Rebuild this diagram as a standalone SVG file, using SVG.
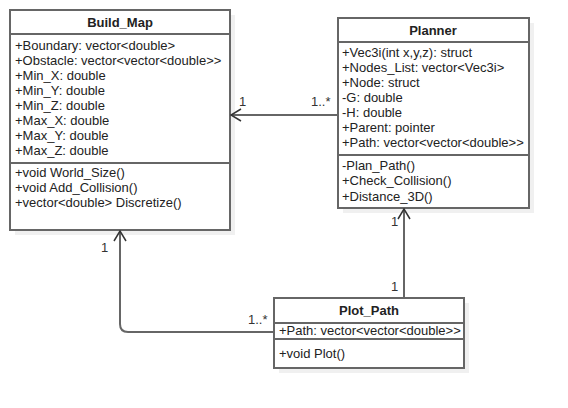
<svg xmlns="http://www.w3.org/2000/svg" width="568" height="408" viewBox="0 0 568 408">
<defs>
<style>
.shadow{fill:#f0f0f0;stroke:none}
.box{fill:#ffffff;stroke:#666666;stroke-width:2}
.sep{stroke:#666666;stroke-width:2}
.t{font-family:"Liberation Sans",Arial,sans-serif;font-size:13px;fill:#222222}
.title{font-family:"Liberation Sans",Arial,sans-serif;font-size:13px;font-weight:bold;fill:#222222;text-anchor:middle}
.conn{fill:none;stroke:#666666;stroke-width:2}
.lbl{font-family:"Liberation Sans",Arial,sans-serif;font-size:13px;fill:#333333}
</style>
<marker id="open" markerWidth="12" markerHeight="14" refX="11" refY="7" orient="auto" markerUnits="userSpaceOnUse">
<path d="M1,1 L11,7 L1,13" fill="none" stroke="#333333" stroke-width="1.5"/>
</marker>
</defs>
<rect width="568" height="408" fill="#ffffff"/>
<g id="Build_Map">
<rect class="shadow" x="15" y="15" width="220" height="220"/>
<rect class="box" x="10" y="10" width="220" height="220"/>
<line class="sep" x1="10" y1="34" x2="230" y2="34"/>
<line class="sep" x1="10" y1="163" x2="230" y2="163"/>
<text class="title" x="120" y="27">Build_Map</text>
<text class="t" x="15" y="50">+Boundary: vector&lt;double&gt;</text>
<text class="t" x="15" y="65">+Obstacle: vector&lt;vector&lt;double&gt;&gt;</text>
<text class="t" x="15" y="80">+Min_X: double</text>
<text class="t" x="15" y="95">+Min_Y: double</text>
<text class="t" x="15" y="110">+Min_Z: double</text>
<text class="t" x="15" y="125">+Max_X: double</text>
<text class="t" x="15" y="140">+Max_Y: double</text>
<text class="t" x="15" y="155">+Max_Z: double</text>
<text class="t" x="15" y="177">+void World_Size()</text>
<text class="t" x="15" y="192">+void Add_Collision()</text>
<text class="t" x="15" y="207">+vector&lt;double&gt; Discretize()</text>
</g>
<g id="Planner">
<rect class="shadow" x="343" y="23" width="191" height="190"/>
<rect class="box" x="338" y="18" width="191" height="190"/>
<line class="sep" x1="338" y1="42" x2="529" y2="42"/>
<line class="sep" x1="338" y1="155" x2="529" y2="155"/>
<text class="title" x="433" y="35">Planner</text>
<text class="t" x="342" y="57">+Vec3i(int x,y,z): struct</text>
<text class="t" x="342" y="72">+Nodes_List: vector&lt;Vec3i&gt;</text>
<text class="t" x="342" y="87">+Node: struct</text>
<text class="t" x="342" y="102">-G: double</text>
<text class="t" x="342" y="117">-H: double</text>
<text class="t" x="342" y="132">+Parent: pointer</text>
<text class="t" x="342" y="147">+Path: vector&lt;vector&lt;double&gt;&gt;</text>
<text class="t" x="342" y="170">-Plan_Path()</text>
<text class="t" x="342" y="185">+Check_Collision()</text>
<text class="t" x="342" y="201">+Distance_3D()</text>
</g>
<g id="Plot_Path">
<rect class="shadow" x="279" y="303" width="190" height="70"/>
<rect class="box" x="274" y="298" width="190" height="70"/>
<line class="sep" x1="274" y1="323" x2="464" y2="323"/>
<line class="sep" x1="274" y1="339" x2="464" y2="339"/>
<text class="title" x="369" y="315">Plot_Path</text>
<text class="t" x="279" y="335">+Path: vector&lt;vector&lt;double&gt;&gt;</text>
<text class="t" x="279" y="358">+void Plot()</text>
</g>
<g id="connectors">
<path class="conn" d="M338,115 L231,115" marker-end="url(#open)"/>
<path class="conn" d="M404,298 L404,209" marker-end="url(#open)"/>
<path class="conn" d="M274,332 L128,332 Q120,332 120,324 L120,231" marker-end="url(#open)"/>
<text class="lbl" x="239" y="106">1</text>
<text class="lbl" x="311" y="106">1..*</text>
<text class="lbl" x="391" y="226">1</text>
<text class="lbl" x="391" y="291">1</text>
<text class="lbl" x="101" y="252">1</text>
<text class="lbl" x="248" y="324">1..*</text>
</g>
</svg>
